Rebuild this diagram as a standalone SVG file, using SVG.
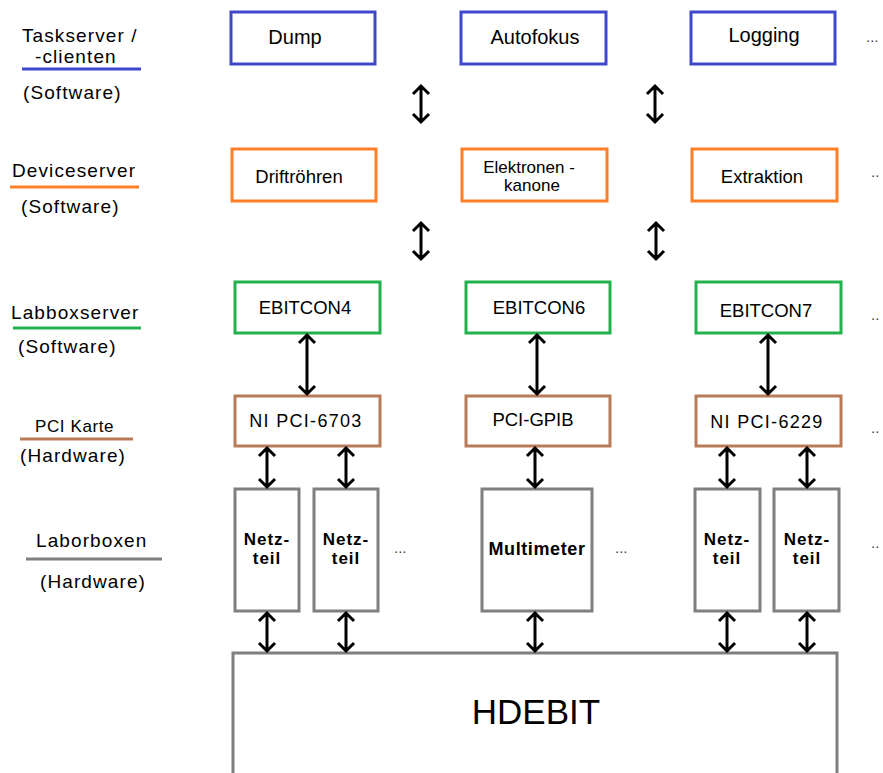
<svg xmlns="http://www.w3.org/2000/svg" width="883" height="773" viewBox="0 0 883 773">
<style>
text{font-family:"Liberation Sans",Arial,sans-serif;fill:#000}
.box{fill:#fff;stroke-width:3}
.b{stroke:#3f48cc}.o{stroke:#ff7f27}.g{stroke:#22b14c}.br{stroke:#b97a57}.gr{stroke:#7f7f7f}
.lbl{font-size:19px;letter-spacing:1.1px}
.t{font-size:18.5px;text-anchor:middle}
.tb{font-size:20px;text-anchor:middle}
.nt{font-size:17px;text-anchor:middle;font-weight:bold;letter-spacing:1px}
.dots{font-size:15px;fill:#444}
.arr{fill:none;stroke:#000;stroke-width:3;stroke-linejoin:miter}
</style>
<g id="legend">
<text class="lbl" x="22" y="42">Taskserver /</text>
<text class="lbl" x="35" y="63">-clienten</text>
<line x1="22" y1="69" x2="141" y2="69" stroke="#3f48cc" stroke-width="3"/>
<text class="lbl" x="23" y="99">(Software)</text>
<text class="lbl" x="12" y="177">Deviceserver</text>
<line x1="10" y1="187" x2="139" y2="187" stroke="#ff7f27" stroke-width="3"/>
<text class="lbl" x="21" y="213">(Software)</text>
<text class="lbl" x="11" y="319">Labboxserver</text>
<line x1="13" y1="328" x2="141" y2="328" stroke="#22b14c" stroke-width="3"/>
<text class="lbl" x="18" y="353">(Software)</text>
<text x="35" y="432" style="font-size:17px;letter-spacing:0.6px">PCI Karte</text>
<line x1="20" y1="439" x2="133" y2="439" stroke="#b97a57" stroke-width="3"/>
<text class="lbl" x="20" y="462">(Hardware)</text>
<text class="lbl" x="36" y="547">Laborboxen</text>
<line x1="26" y1="559" x2="162" y2="559" stroke="#7f7f7f" stroke-width="3"/>
<text class="lbl" x="40" y="588">(Hardware)</text>
</g>
<g id="dump"><rect class="box b" x="231" y="12" width="144" height="52"/><text class="tb" x="295" y="44">Dump</text></g>
<g id="autofokus"><rect class="box b" x="461" y="12" width="145" height="52"/><text class="tb" x="535" y="44">Autofokus</text></g>
<g id="logging"><rect class="box b" x="691" y="12" width="144" height="52"/><text class="tb" x="764" y="42">Logging</text></g>
<g id="driftroehren"><rect class="box o" x="232" y="149" width="144" height="52"/><text class="t" x="299" y="183">Driftröhren</text></g>
<g id="elektronenkanone"><rect class="box o" x="462" y="149" width="145" height="52"/><text x="529" y="173" style="font-size:17px;text-anchor:middle">Elektronen -</text><text x="532" y="191" style="font-size:17px;text-anchor:middle">kanone</text></g>
<g id="extraktion"><rect class="box o" x="692" y="149" width="145" height="52"/><text class="t" x="762" y="183">Extraktion</text></g>
<g id="ebitcon4"><rect class="box g" x="235" y="282" width="145" height="51"/><text class="t" x="305" y="314">EBITCON4</text></g>
<g id="ebitcon6"><rect class="box g" x="466" y="282" width="144" height="51"/><text class="t" x="539" y="314">EBITCON6</text></g>
<g id="ebitcon7"><rect class="box g" x="696" y="282" width="145" height="51"/><text class="t" x="766" y="317">EBITCON7</text></g>
<g id="nipci6703"><rect class="box br" x="235" y="396" width="145" height="50"/><text x="306" y="427" style="font-size:18px;text-anchor:middle;letter-spacing:1.3px">NI PCI-6703</text></g>
<g id="pcigpib"><rect class="box br" x="466" y="396" width="144" height="50"/><text class="t" x="533" y="426">PCI-GPIB</text></g>
<g id="nipci6229"><rect class="box br" x="696" y="396" width="145" height="50"/><text x="767" y="428" style="font-size:18px;text-anchor:middle;letter-spacing:1.3px">NI PCI-6229</text></g>
<g id="netzteil1"><rect class="box gr" x="235" y="489" width="64" height="122"/><text class="nt" x="267" y="545">Netz-</text><text class="nt" x="267" y="564">teil</text></g>
<g id="netzteil2"><rect class="box gr" x="314" y="489" width="64" height="122"/><text class="nt" x="346" y="545">Netz-</text><text class="nt" x="346" y="564">teil</text></g>
<g id="multimeter"><rect class="box gr" x="482" y="489" width="110" height="122"/><text x="537" y="555" style="font-size:18px;text-anchor:middle;font-weight:bold;letter-spacing:0.6px">Multimeter</text></g>
<g id="netzteil3"><rect class="box gr" x="695" y="489" width="65" height="122"/><text class="nt" x="727" y="545">Netz-</text><text class="nt" x="727" y="564">teil</text></g>
<g id="netzteil4"><rect class="box gr" x="774" y="489" width="65" height="122"/><text class="nt" x="807" y="545">Netz-</text><text class="nt" x="807" y="564">teil</text></g>
<g id="hdebit"><rect class="box gr" x="233" y="653" width="604" height="130"/><text x="536" y="724" style="font-size:35px;text-anchor:middle">HDEBIT</text></g>
<g id="ellipses">
<text class="dots" x="866" y="42">...</text>
<text class="dots" x="871" y="177">..</text>
<text class="dots" x="871" y="320">..</text>
<text class="dots" x="871" y="433">..</text>
<text class="dots" x="871" y="548">..</text>
<text class="dots" x="394" y="553">...</text>
<text class="dots" x="615" y="553">...</text>
</g>
<g id="connectors" class="arr">
<path d="M421 86V122M413 94L421 86L429 94M413 114L421 122L429 114"/>
<path d="M655 86V122M647 94L655 86L663 94M647 114L655 122L663 114"/>
<path d="M421 223V259M413 231L421 223L429 231M413 251L421 259L429 251"/>
<path d="M656 223V259M648 231L656 223L664 231M648 251L656 259L664 251"/>
<path d="M307 335V394M299 343L307 335L315 343M299 386L307 394L315 386"/>
<path d="M537 335V394M529 343L537 335L545 343M529 386L537 394L545 386"/>
<path d="M768 335V394M760 343L768 335L776 343M760 386L768 394L776 386"/>
<path d="M267 448V487M259 456L267 448L275 456M259 479L267 487L275 479"/>
<path d="M346 448V487M338 456L346 448L354 456M338 479L346 487L354 479"/>
<path d="M535 448V487M527 456L535 448L543 456M527 479L535 487L543 479"/>
<path d="M727 448V487M719 456L727 448L735 456M719 479L727 487L735 479"/>
<path d="M807 448V487M799 456L807 448L815 456M799 479L807 487L815 479"/>
<path d="M267 613V651M259 621L267 613L275 621M259 643L267 651L275 643"/>
<path d="M346 613V651M338 621L346 613L354 621M338 643L346 651L354 643"/>
<path d="M535 613V651M527 621L535 613L543 621M527 643L535 651L543 643"/>
<path d="M727 613V651M719 621L727 613L735 621M719 643L727 651L735 643"/>
<path d="M807 613V651M799 621L807 613L815 621M799 643L807 651L815 643"/>
</g>
</svg>
